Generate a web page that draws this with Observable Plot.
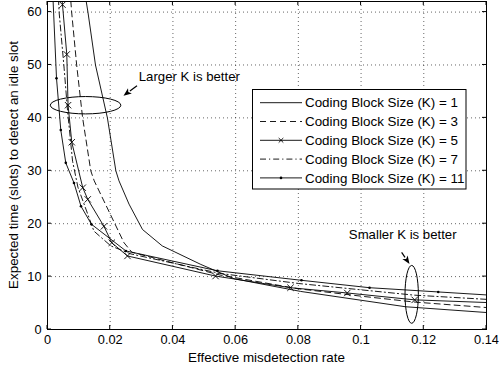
<!DOCTYPE html>
<html><head><meta charset="utf-8">
<script src="https://cdn.jsdelivr.net/npm/d3@7"></script>
<script src="https://cdn.jsdelivr.net/npm/@observablehq/plot@0.6"></script>
<style>
body{margin:0;background:#fff;}
#chart{position:absolute;left:0;top:0;}
</style></head><body><div id="chart"></div>
<script>
// ---- data ----
const k1x  = [0.0118,0.0129,0.0153,0.0191,0.0218,0.0228,0.026,0.0303,0.0366,0.0489,0.0595,0.0807,0.1142,0.1402];
const k1y  = [64,60,50,40,30,28.1,23.7,18.9,15.8,12.3,9.6,7.2,4.3,3.2];
const k3x  = [0.0072,0.0077,0.0093,0.0112,0.0138,0.0149,0.0244,0.0269,0.055,0.08,0.1,0.1168,0.14];
const k3y  = [64,60,50,40,30,28.1,16.4,14.6,10.3,7.7,6.3,5.2,4.15];
const k5x  = [0.0035,0.00478,0.00615,0.00656,0.00774,0.01125,0.01284,0.018,0.0205,0.0255,0.0536,0.0775,0.0956,0.1171,0.15];
const k5y  = [70,61.4,52.0,42.4,35.4,26.8,24.6,19.5,16.4,13.9,10.1,7.9,6.9,5.6,4.88];
const k7x  = [0.0029,0.0037,0.0053,0.0064,0.008,0.0097,0.0148,0.0202,0.0265,0.055,0.08,0.1,0.1168,0.14];
const k7y  = [70,60,49.4,41.3,31.8,26.9,18.6,15.8,14.3,10.6,8.7,7.5,6.5,5.7];
const k11x = [0.0012,0.00287,0.00424,0.00583,0.00845,0.01068,0.014,0.025,0.0542,0.081,0.1027,0.1246,0.1464];
const k11y = [70,47.5,37.7,31.5,27.7,23.3,19.9,14.85,11.1,9.3,7.9,7.1,6.3];

const xTicks = [0,0.02,0.04,0.06,0.08,0.1,0.12,0.14];
const yTicks = [0,10,20,30,40,50,60];
const legendLabels = ["Coding Block Size (K) = 1","Coding Block Size (K) = 3","Coding Block Size (K) = 5","Coding Block Size (K) = 7","Coding Block Size (K) = 11"];
const xLabel = "Effective misdetection rate";
const yLabel = "Expected time (slots) to detect an idle slot";
const noteText = ["Larger K is better","Smaller K is better"];
const noteX = [0.0291, 0.0961];
const noteY = [47.7, 18.0];
// annotation ellipses (centre and radii in data units) and arrows (tail -> tip)
const ellCx = [0.0123, 0.1163], ellCy = [42.3, 6.55], ellRx = [0.01125, 0.00213], ellRy = [1.64, 5.47];
const arrX1 = [0.0287, 0.1131], arrY1 = [46.0, 14.5], arrX2 = [0.0244, 0.1156], arrY2 = [44.1, 12.3];

const toRows = (xs, ys) => xs.map((x, i) => ({x, y: ys[i]}));
const s1 = toRows(k1x, k1y), s3 = toRows(k3x, k3y), s5 = toRows(k5x, k5y), s7 = toRows(k7x, k7y), s11 = toRows(k11x, k11y);
const notes = noteText.map((t, i) => ({t, x: noteX[i], y: noteY[i]}));

const font = "'Liberation Sans', Arial, Helvetica, sans-serif";
const sw = 0.9;
const dash3 = "6,4", dash7 = "6,3,1.2,3";

const chart = Plot.plot({
  width: 499, height: 369,
  marginLeft: 47, marginRight: 13, marginTop: 1, marginBottom: 40,
  style: {fontFamily: font, fontSize: "12.5px", background: "white", color: "black", overflow: "visible"},
  x: {domain: [0, 0.14], label: null},
  y: {domain: [0, 62], label: null},
  marks: [
    Plot.gridX(xTicks.slice(1, -1), {stroke: "#000", strokeOpacity: 0.6, strokeDasharray: "1,3"}),
    Plot.gridY(yTicks.slice(1), {stroke: "#000", strokeOpacity: 0.6, strokeDasharray: "1,3"}),
    Plot.axisX(xTicks, {anchor: "bottom", tickSize: 0, tickPadding: 5, tickFormat: d => String(d), label: null, fontSize: 12.8}),
    Plot.axisY(yTicks, {anchor: "left", tickSize: 0, tickPadding: 6, tickFormat: d => String(d), label: null, fontSize: 12.8}),
    Plot.line(s1,  {x: "x", y: "y", stroke: "black", strokeWidth: sw, clip: true}),
    Plot.line(s3,  {x: "x", y: "y", stroke: "black", strokeWidth: sw, strokeDasharray: dash3, clip: true}),
    Plot.line(s5,  {x: "x", y: "y", stroke: "black", strokeWidth: sw, clip: true}),
    Plot.dot(s5,   {x: "x", y: "y", symbol: "times", r: 3, stroke: "black", strokeWidth: sw, clip: true}),
    Plot.line(s7,  {x: "x", y: "y", stroke: "black", strokeWidth: sw, strokeDasharray: dash7, clip: true}),
    Plot.line(s11, {x: "x", y: "y", stroke: "black", strokeWidth: sw, clip: true}),
    Plot.dot(s11,  {x: "x", y: "y", r: 1.3, fill: "black", stroke: null, clip: true}),
    Plot.text(notes, {x: "x", y: "y", text: "t", textAnchor: "start", fontSize: 13.2, fill: "black"}),
    Plot.frame({stroke: "black", strokeWidth: 1})
  ]
});
document.getElementById("chart").appendChild(chart);

const X = chart.scale("x"), Y = chart.scale("y");
const svg = d3.select(chart);
const [x0, x1] = X.range, [y0, y1] = Y.range; // y0 bottom, y1 top

// inward ticks on all four sides (MATLAB style)
const tk = svg.append("g").attr("stroke", "black").attr("stroke-width", 1);
xTicks.forEach(v => {
  const px = X.apply(v);
  tk.append("line").attr("x1", px).attr("x2", px).attr("y1", y0).attr("y2", y0 - 4);
  tk.append("line").attr("x1", px).attr("x2", px).attr("y1", y1).attr("y2", y1 + 4);
});
yTicks.forEach(v => {
  const py = Y.apply(v);
  tk.append("line").attr("y1", py).attr("y2", py).attr("x1", x0).attr("x2", x0 + 4);
  tk.append("line").attr("y1", py).attr("y2", py).attr("x1", x1).attr("x2", x1 - 4);
});

// ellipses
ellCx.forEach((cx, i) => {
  const pcx = X.apply(cx), pcy = Y.apply(ellCy[i]);
  svg.append("ellipse").attr("cx", pcx).attr("cy", pcy)
    .attr("rx", X.apply(cx + ellRx[i]) - pcx).attr("ry", pcy - Y.apply(ellCy[i] + ellRy[i]))
    .attr("fill", "none").attr("stroke", "black").attr("stroke-width", 1);
});
// arrows with filled heads
arrX1.forEach((ax, i) => {
  const ax1 = X.apply(ax), ay1 = Y.apply(arrY1[i]), ax2 = X.apply(arrX2[i]), ay2 = Y.apply(arrY2[i]);
  const ang = Math.atan2(ay2 - ay1, ax2 - ax1), hl = 8, hw = 3.2;
  const bx = ax2 - hl * Math.cos(ang), by = ay2 - hl * Math.sin(ang);
  svg.append("line").attr("x1", ax1).attr("y1", ay1).attr("x2", bx).attr("y2", by).attr("stroke", "black").attr("stroke-width", 1.2);
  const p = [[ax2, ay2], [bx - hw * Math.sin(ang), by + hw * Math.cos(ang)], [bx + 2 * Math.cos(ang), by + 2 * Math.sin(ang)], [bx + hw * Math.sin(ang), by - hw * Math.cos(ang)]];
  svg.append("polygon").attr("points", p.map(q => q.join(",")).join(" ")).attr("fill", "black");
});

// axis titles
svg.append("text").attr("x", (x0 + x1) / 2).attr("y", 361.5).attr("text-anchor", "middle")
  .attr("font-family", font).attr("font-size", 13.4).attr("fill", "black").text(xLabel);
svg.append("text").attr("transform", `translate(18,${(y0 + y1) / 2}) rotate(-90)`).attr("text-anchor", "middle")
  .attr("font-family", font).attr("font-size", 13.4).attr("fill", "black").text(yLabel);

// legend box
const lg = svg.append("g").attr("text-anchor", "start");
lg.append("rect").attr("x", 252.5).attr("y", 89.5).attr("width", 213.5).attr("height", 99.5)
  .attr("fill", "white").attr("stroke", "black").attr("stroke-width", 1);
const dashes = [null, dash3, null, dash7, null];
legendLabels.forEach((lab, i) => {
  const cy = 102.7 + i * 18.8;
  lg.append("line").attr("x1", 260).attr("x2", 302).attr("y1", cy).attr("y2", cy)
    .attr("stroke", "black").attr("stroke-width", sw).attr("stroke-dasharray", dashes[i]);
  if (i === 2) {
    lg.append("path").attr("d", `M${281-2.3},${cy-2.3}L${281+2.3},${cy+2.3}M${281-2.3},${cy+2.3}L${281+2.3},${cy-2.3}`)
      .attr("stroke", "black").attr("stroke-width", sw);
  }
  if (i === 4) lg.append("circle").attr("cx", 281).attr("cy", cy).attr("r", 1.3).attr("fill", "black");
  lg.append("text").attr("x", 305).attr("y", cy).attr("dy", "0.35em").attr("text-anchor", "start").attr("font-family", font)
    .attr("font-size", 13.4).attr("fill", "black").text(lab);
});
</script></body></html>
